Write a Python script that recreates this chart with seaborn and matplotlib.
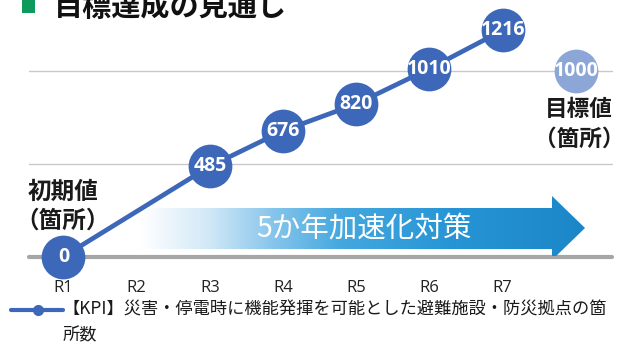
import matplotlib
matplotlib.use("Agg")
import matplotlib.pyplot as plt
import numpy as np
import pandas as pd
import seaborn as sns
from matplotlib.patches import Polygon, Rectangle
from matplotlib.lines import Line2D
from matplotlib.colors import LinearSegmentedColormap

# ---- data ----
categories = ["R1", "R2", "R3", "R4", "R5", "R6", "R7", ""]
kpi_years = ["R1", "R3", "R4", "R5", "R6", "R7"]
kpi_values = [0, 485, 676, 820, 1010, 1216]
target_year = ""
target_value = 1000
gridline_values = [500, 1000]

title = "目標達成の見通し"
initial_label = ["初期値", "（箇所）"]
target_label = ["目標値", "（箇所）"]
arrow_label = "5か年加速化対策"
legend_label = "【KPI】災害・停電時に機能発揮を可能とした避難施設・防災拠点の箇\n所数"

sns.set_theme(style="white")
JP = ["Noto Sans CJK JP", "DejaVu Sans"]
plt.rcParams["font.family"] = JP

W, H = 626, 344
fig = plt.figure(figsize=(W / 100, H / 100), dpi=100)
fig.patch.set_facecolor("white")

# plot area: bottom edge sits on the zero baseline
base_px = 256.5
ax = fig.add_axes([0, (H - base_px) / H, 1, base_px / H])
x0, dx = 63.5, 73.2
ax.set_xlim(-x0 / dx, (W - x0) / dx)
ax.set_ylim(0, base_px / 0.186)
for s in ax.spines.values():
    s.set_visible(False)
ax.set_yticks([])
ax.grid(False)


def P(px, py):
    """pixel (top-left origin) -> axes fraction"""
    return px / W, (base_px - py) / base_px


# gridlines and baseline
for g in gridline_values:
    ax.axhline(g, xmin=29 / W, xmax=612 / W, color="#c9c9c9", lw=1.0, zorder=1)
ax.axhline(0, xmin=29 / W, xmax=612 / W, color="#a6a6a6", lw=3.0,
           zorder=2, clip_on=False)

# gradient arrow
arrow_pts = [(140, 208), (552, 208), (552, 196), (585, 228),
             (552, 260), (552, 249), (140, 249)]
poly = Polygon([P(*p) for p in arrow_pts], closed=True, transform=ax.transAxes,
               facecolor="none", edgecolor="none")
ax.add_patch(poly)
cmap = LinearSegmentedColormap.from_list(
    "arrow", [(0.0, "#ffffff"), (0.15, "#d3e9f7"), (0.30, "#86c5eb"),
              (0.45, "#45a8df"), (0.70, "#2795d5"), (1.0, "#1b86c8")])
grad = np.linspace(0, 1, 512).reshape(1, -1)
l, b = P(140, 260)
r, t = P(585, 196)
im = ax.imshow(grad, cmap=cmap, aspect="auto", extent=[l, r, b, t],
               transform=ax.transAxes, zorder=3, interpolation="bilinear")
im.set_clip_path(poly)
tx, ty = P(364, 229)
ax.text(tx, ty, arrow_label, transform=ax.transAxes, ha="center", va="center",
        color="white", fontsize=20.5, zorder=4)

# KPI line
df = pd.DataFrame({"pos": [categories.index(c) for c in kpi_years],
                   "value": kpi_values})
line_color = "#3d67b9"
sns.lineplot(data=df, x="pos", y="value", ax=ax, color=line_color, lw=3.4,
             marker="o", markersize=31.5, markeredgewidth=0, zorder=5,
             clip_on=False)
for p, v in zip(df["pos"], df["value"]):
    ax.text(p, v, f"{v}", ha="center", va="center", color="white",
            fontsize=14, fontweight="bold", family=["Open Sans", "DejaVu Sans"],
            zorder=6, clip_on=False)

# target point
tdf = pd.DataFrame({"pos": [categories.index(target_year)],
                    "value": [target_value]})
sns.scatterplot(data=tdf, x="pos", y="value", ax=ax, color="#8ba6d7",
                s=31.5 ** 2, linewidth=0, zorder=5, clip_on=False)
ax.text(tdf["pos"][0], target_value, f"{target_value}", ha="center",
        va="center", color="white", fontsize=14, fontweight="bold",
        family=["Open Sans", "DejaVu Sans"], zorder=6)

# category ticks (drawn above the markers)
ax.set_xticks(range(len(categories)))
ax.set_xticklabels(categories, fontsize=12, color="#222222",
                   family=["Open Sans", "DejaVu Sans"])
ax.tick_params(axis="x", length=0, pad=17)
ax.xaxis.set_zorder(7)
ax.set_xlabel("")
ax.set_ylabel("")

# side labels
for (cx, ys, lines, fs) in [(63, (192, 221), initial_label, 17),
                            (579, (109, 139), target_label, 16.3)]:
    for yy, s in zip(ys, lines):
        fig.text(cx / W, 1 - yy / H, s, ha="center", va="center",
                 fontsize=fs, fontweight="bold", color="#1a1a1a")

# title with green square
fig.add_artist(Rectangle((22 / W, 1 - 13 / H), 13 / W, 15 / H,
                         transform=fig.transFigure, color="#0f9a5b", lw=0))
fig.text(54 / W, 1 - 16 / H, title, ha="left", va="baseline", fontsize=21,
         fontweight="bold", color="#111111")

# legend
ly = 1 - 310 / H
fig.add_artist(Line2D([11 / W, 63 / W], [ly, ly], transform=fig.transFigure,
                      color=line_color, lw=3))
fig.add_artist(Line2D([38 / W], [ly], transform=fig.transFigure,
                      color=line_color, marker="o", markersize=7, lw=0))
fig.text(63 / W, 1 - 301 / H, legend_label, ha="left", va="top", fontsize=12.4,
         color="#1a1a1a", linespacing=1.55)

fig.savefig("out.png", dpi=100)
